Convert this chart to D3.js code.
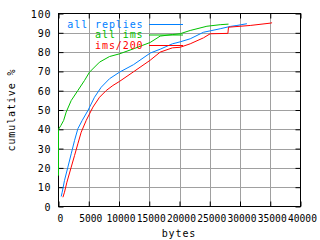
<!DOCTYPE html>
<html><head><meta charset="utf-8">
<script src="https://cdn.jsdelivr.net/npm/d3@7"></script>
<style>
html,body{margin:0;padding:0;background:#fff;}
svg{display:block;}
text{font-family:"DejaVu Sans Mono",monospace;font-size:10px;letter-spacing:0.9px;}
text.xl{font-size:9.6px;letter-spacing:0px;}
</style></head>
<body>
<script>
const xTicks = [0,5000,10000,15000,20000,25000,30000,35000,40000];
const yTicks = [0,10,20,30,40,50,60,70,80,90,100];
const seriesNames = ["all replies","all ims","ims/200"];
const seriesColors = ["#0080ff","#00c000","#ff0000"];
const allReplies = [[450,5.2],[610,7.4],[990,13.5],[1550,20.4],[2100,27.3],[2650,34.2],[3200,40.3],[3920,44.6],[4860,49.7],[5950,56.6],[7060,61.8],[8430,66.2],[10080,69.6],[12400,73.5],[15160,79.5],[16810,81.5],[18830,84.3],[20100,85.3],[21770,86.9],[23970,90.3],[25080,91],[26730,92.1],[28400,93.3],[29490,93.8],[31140,94.7]];
const allIms = [[0,16],[0,40],[400,42],[850,44.6],[1270,48.9],[2100,54.9],[3200,60.1],[4300,65.3],[5120,69.6],[6780,74.8],[8430,77.7],[10080,79.1],[12400,81.7],[15160,85],[16810,88.3],[18830,89.1],[20100,89.5],[21770,91.2],[24530,93.4],[26730,94.2],[28100,94.5]];
const ims200 = [[730,4.8],[990,7.4],[1390,12.6],[2100,20.4],[2650,26.4],[3200,32.5],[3750,38.5],[4580,44.6],[5690,51.5],[6780,56.6],[7890,60.1],[8990,62.7],[10080,64.8],[12400,69.8],[15160,75.8],[16810,80],[18830,82.2],[20100,82.5],[21770,84.3],[23970,87.4],[25080,89.5],[28000,89.7],[28100,92.9],[31690,93.8],[35000,95],[35300,95.2]];
const seriesData = [allReplies, allIms, ims200];

const W=320,H=240;
const L=58.5,R=300.5,T=13.5,B=206.5;
const svg=d3.select("body").append("svg").attr("width",W).attr("height",H);
const x=d3.scaleLinear().domain([0,40000]).range([L,R]);
const y=d3.scaleLinear().domain([0,100]).range([B,T]);

// grid
const g=svg.append("g");
g.selectAll(".gx").data(xTicks.slice(1,-1)).enter().append("line")
 .attr("x1",d=>Math.round(x(d))+0.5).attr("x2",d=>Math.round(x(d))+0.5).attr("y1",T).attr("y2",B)
 .attr("stroke","#a0a0a0").attr("stroke-width",1);
g.selectAll(".gy").data(yTicks.slice(1,-1)).enter().append("line")
 .attr("y1",d=>Math.round(y(d))+0.5).attr("y2",d=>Math.round(y(d))+0.5).attr("x1",L).attr("x2",R)
 .attr("stroke","#a0a0a0").attr("stroke-width",1);

// axes via d3 (inward ticks)
const axB=svg.append("g").attr("transform",`translate(0,${B})`).call(d3.axisTop(x).tickValues(xTicks).tickSize(5).tickFormat(""));
const axT=svg.append("g").attr("transform",`translate(0,${T})`).call(d3.axisBottom(x).tickValues(xTicks).tickSize(5).tickFormat(""));
const axL=svg.append("g").attr("transform",`translate(${L},0)`).call(d3.axisRight(y).tickValues(yTicks).tickSize(5).tickFormat(""));
const axR=svg.append("g").attr("transform",`translate(${R},0)`).call(d3.axisLeft(y).tickValues(yTicks).tickSize(5).tickFormat(""));
[axB,axT,axL,axR].forEach(a=>{a.select(".domain").remove();a.selectAll("line").attr("stroke","#000");});
svg.append("rect").attr("x",L).attr("y",T).attr("width",R-L).attr("height",B-T)
 .attr("fill","none").attr("stroke","#000").attr("stroke-width",1);

// tick labels
svg.selectAll(".xl").data(xTicks).enter().append("text").attr("class","xl")
 .attr("x",d=>x(d)+2).attr("y",222).attr("text-anchor","middle").text(d=>d);
svg.selectAll(".yl").data(yTicks).enter().append("text")
 .attr("x",51.5).attr("y",d=>y(d)+4).attr("text-anchor","end").text(d=>d);

svg.append("text").attr("x",179).attr("y",237).attr("text-anchor","middle").text("bytes");
svg.append("text").attr("transform","translate(15,110) rotate(-90)").attr("text-anchor","middle").text("cumulative %");

// lines
const line=d3.line().x(d=>x(d[0])).y(d=>y(d[1]));
seriesData.forEach((s,i)=>{
  svg.append("path").datum(s).attr("d",line).attr("fill","none")
   .attr("stroke",seriesColors[i]).attr("stroke-width",1);
});

// legend
const legY=[24,34.5,45];
seriesNames.forEach((n,i)=>{
  svg.append("text").attr("x",143.5).attr("y",legY[i]+3.5).attr("text-anchor","end")
   .attr("fill",seriesColors[i]).text(n);
  svg.append("line").attr("x1",149).attr("x2",183).attr("y1",legY[i]+0.5).attr("y2",legY[i]+0.5)
   .attr("stroke",seriesColors[i]).attr("stroke-width",1);
});
</script>
</body></html>
